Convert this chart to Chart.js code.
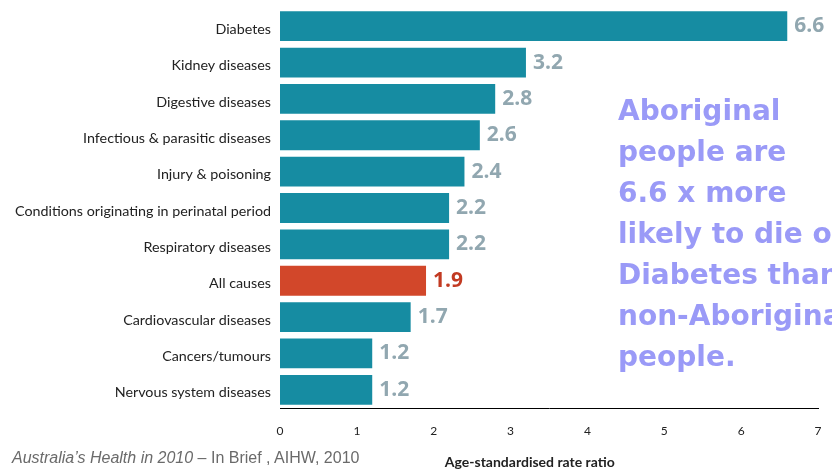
<!DOCTYPE html>
<html>
<head>
<meta charset="utf-8">
<script src="https://cdn.jsdelivr.net/npm/chart.js@4"></script>
<style>
html,body{margin:0;padding:0;background:#fff;overflow:hidden}
#wrap{position:relative;width:832px;height:471px}
#note{position:absolute;left:618px;top:90px;width:300px;font:bold 28px "DejaVu Sans",sans-serif;line-height:41px;color:#9a9af7;white-space:nowrap}
#src{position:absolute;left:12px;top:449px;font:16px "Liberation Sans",Arial,sans-serif;color:#6a6a6a;white-space:nowrap}
</style>
</head>
<body>
<div id="wrap">
<canvas id="c" width="832" height="471"></canvas>
<div id="note">Aboriginal<br>people are<br>6.6 x more<br>likely to die of<br>Diabetes than<br>non-Aboriginal<br>people.</div>
<div id="src"><i>Australia’s Health in 2010</i> – In Brief , AIHW, 2010</div>
</div>
<script>
// causes of death, rate ratio Aboriginal vs non-Aboriginal
const causes=['Diabetes','Kidney diseases','Digestive diseases','Infectious & parasitic diseases','Injury & poisoning','Conditions originating in perinatal period','Respiratory diseases','All causes','Cardiovascular diseases','Cancers/tumours','Nervous system diseases'];
const ratios=[6.6,3.2,2.8,2.6,2.4,2.2,2.2,1.9,1.7,1.2,1.2];
const xTicks=[0,1,2,3,4,5,6,7];
const xTitle='Age-standardised rate ratio';
const TEAL='#168ca2',RED='#d2472a',LBL='#91a7b0',LBLR='#c23a22';
const barCols=causes.map(function(c){return c==='All causes'?RED:TEAL});

const valLbl={id:'valLbl',afterDatasetsDraw:function(ch){
 var ctx=ch.ctx,meta=ch.getDatasetMeta(0);
 ctx.save();ctx.font='bold 21px "Open Sans",sans-serif';ctx.textBaseline='middle';ctx.textAlign='left';
 meta.data.forEach(function(b,i){
  ctx.fillStyle=causes[i]==='All causes'?LBLR:LBL;
  ctx.fillText(ratios[i].toFixed(1),b.x+7,b.y);
 });
 // axis title, sits a bit left of the axis centre in the original
 ctx.fillStyle='#222';ctx.font='bold 14px Lato,sans-serif';ctx.textAlign='center';
 ctx.fillText(xTitle,ch.scales.x.getPixelForValue(3.25),ch.scales.x.bottom-9);
 ctx.restore();
}};

new Chart(document.getElementById('c'),{
 type:'bar',
 data:{labels:causes,datasets:[{data:ratios,backgroundColor:barCols,barPercentage:0.82,categoryPercentage:1}]},
 options:{responsive:false,animation:false,indexAxis:'y',
  layout:{padding:{top:8,right:14,left:0,bottom:0}},
  plugins:{legend:{display:false},tooltip:{enabled:false}},
  scales:{
   y:{grid:{display:false,drawTicks:false},border:{display:false},
    ticks:{color:'#222',font:{family:'Lato',size:14.3},padding:9,labelOffset:3},
    afterFit:function(s){s.width=280;s.paddingTop=0;s.paddingBottom=0}},
   x:{min:0,max:7,grid:{display:false,drawTicks:false},border:{color:'#000',width:1},
    afterBuildTicks:function(s){s.ticks=xTicks.map(function(v){return{value:v}})},
    ticks:{color:'#222',font:{family:'Lato',size:12},padding:16},
    afterFit:function(s){s.height=63;s.paddingLeft=0;s.paddingRight=0}}
  }},
 plugins:[valLbl]
});
</script>
</body>
</html>
